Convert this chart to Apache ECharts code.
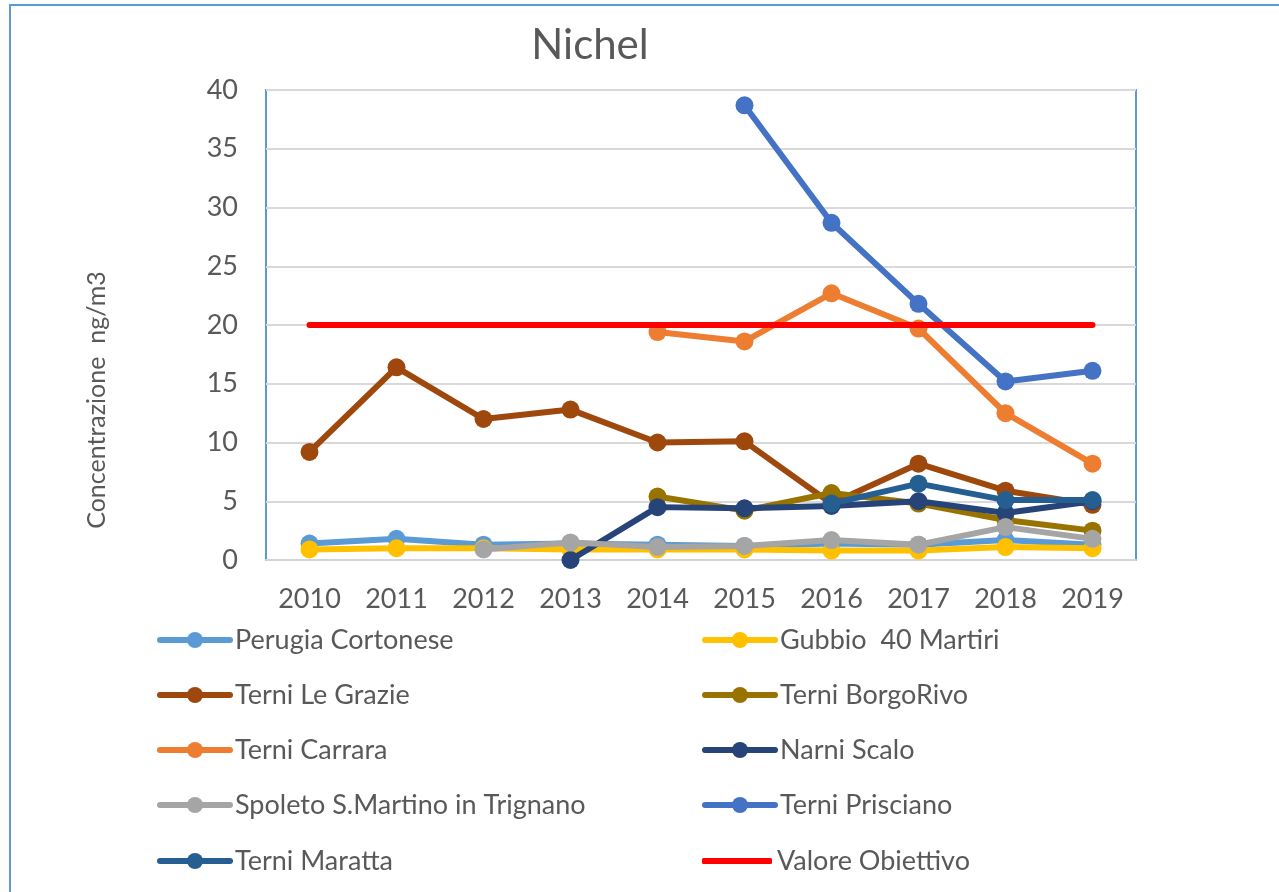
<!DOCTYPE html>
<html>
<head>
<meta charset="utf-8">
<script src="https://cdn.jsdelivr.net/npm/echarts@6/dist/echarts.min.js"></script>
<style>
html,body{margin:0;padding:0;background:#fff;}
#chart{width:1279px;height:892px;}
</style>
</head>
<body>
<div id="chart"></div>
<script>
const years = ['2010','2011','2012','2013','2014','2015','2016','2017','2018','2019'];
const yTicks = [0,5,10,15,20,25,30,35,40];

const perugiaCortonese = [1.4, 1.8, 1.3, 1.4, 1.3, 1.2, 1.4, 1.3, 1.7, 1.3];
const gubbio40Martiri  = [0.9, 1.0, 1.0, 0.9, 0.9, 0.9, 0.8, 0.8, 1.1, 1.0];
const terniLeGrazie    = [9.2, 16.4, 12.0, 12.8, 10.0, 10.1, 4.8, 8.2, 5.9, 4.7];
const terniBorgoRivo   = [null, null, null, null, 5.4, 4.2, 5.7, 4.8, 3.4, 2.5];
const terniCarrara     = [null, null, null, null, 19.4, 18.6, 22.7, 19.7, 12.5, 8.2];
const narniScalo       = [null, null, null, 0.0, 4.5, 4.4, 4.6, 5.0, 4.0, 5.0];
const spoletoSMartino  = [null, null, 0.9, 1.5, 1.1, 1.2, 1.7, 1.3, 2.8, 1.8];
const terniPrisciano   = [null, null, null, null, null, 38.7, 28.7, 21.8, 15.2, 16.1];
const terniMaratta     = [null, null, null, null, null, null, 4.8, 6.5, 5.1, 5.1];
const valoreObiettivo  = [20, 20, 20, 20, 20, 20, 20, 20, 20, 20];

const seriesNames = ['Perugia Cortonese','Gubbio  40 Martiri','Terni Le Grazie','Terni BorgoRivo','Terni Carrara','Narni Scalo','Spoleto S.Martino in Trignano','Terni Prisciano','Terni Maratta','Valore Obiettivo'];
const seriesData = [perugiaCortonese,gubbio40Martiri,terniLeGrazie,terniBorgoRivo,terniCarrara,narniScalo,spoletoSMartino,terniPrisciano,terniMaratta,valoreObiettivo];
const colors = ['#5B9BD5','#FFC000','#9E480E','#997300','#ED7D31','#264478','#A5A5A5','#4472C4','#255E91','#FF0000'];

const FONT = 'Lato';
const TXT = '#595959';

const series = seriesNames.map((name, i) => {
  const isRef = i === seriesNames.length - 1;
  return {
    name: name,
    type: 'line',
    data: seriesData[i],
    color: colors[i],
    symbol: isRef ? 'none' : 'circle',
    symbolSize: 18,
    showSymbol: !isRef,
    lineStyle: { width: 6, color: colors[i], cap: 'round', join: 'round' },
    itemStyle: { color: colors[i] },
    z: 2 + i,
    animation: false
  };
});

// legend: two columns, five rows
const legendLeftX = [157, 702];
const legendRowY = [640, 695, 750, 805, 861];
const legends = seriesNames.map((name, i) => {
  const isRef = i === seriesNames.length - 1;
  return {
    orient: 'horizontal',
    left: legendLeftX[i % 2],
    top: legendRowY[Math.floor(i / 2)] - 14,
    padding: 0,
    itemWidth: 70,
    itemHeight: isRef ? 6 : 20,
    selectedMode: false,
    lineStyle: { width: 6 },
    textStyle: { fontFamily: FONT, fontSize: 27, color: TXT, lineHeight: 28 },
    data: [isRef ? { name: name, icon: 'roundRect' } : name]
  };
});

const chart = echarts.init(document.getElementById('chart'), null, { renderer: 'canvas' });
chart.setOption({
  backgroundColor: '#fff',
  animation: false,
  title: {
    text: 'Nichel',
    left: 585,
    textAlign: 'center',
    top: 19,
    textStyle: { fontFamily: FONT, fontSize: 42, fontWeight: 'normal', color: TXT }
  },
  legend: legends,
  grid: {
    left: 266, top: 90, width: 870, height: 470,
    show: true, borderColor: '#5B9BD5', borderWidth: 2, backgroundColor: 'transparent'
  },
  xAxis: {
    type: 'category',
    data: years,
    boundaryGap: true,
    axisLine: { show: true, lineStyle: { color: '#D0D5DB', width: 2 } },
    axisTick: { show: false },
    axisLabel: { fontFamily: FONT, fontSize: 27, color: TXT, margin: 26 },
    splitLine: { show: false }
  },
  yAxis: {
    type: 'value',
    min: yTicks[0],
    max: yTicks[yTicks.length - 1],
    interval: yTicks[1] - yTicks[0],
    axisLine: { show: false },
    axisTick: { show: false },
    axisLabel: { fontFamily: FONT, fontSize: 27, color: TXT, margin: 28 },
    splitLine: { show: true, lineStyle: { color: '#D9D9D9', width: 2 } }
  },
  graphic: [
    {
      type: 'rect', silent: true, z: -10,
      shape: { x: 10, y: 5, width: 1300, height: 1000 },
      style: { fill: 'none', stroke: '#5B9BD5', lineWidth: 2 }
    },
    {
      type: 'text', silent: true,
      x: 97, y: 400, rotation: Math.PI / 2,
      style: { text: 'Concentrazione  ng/m3', fontFamily: FONT, fontSize: 25, fill: TXT, align: 'center', verticalAlign: 'middle' }
    }
  ],
  series: series
});
</script>
</body>
</html>
